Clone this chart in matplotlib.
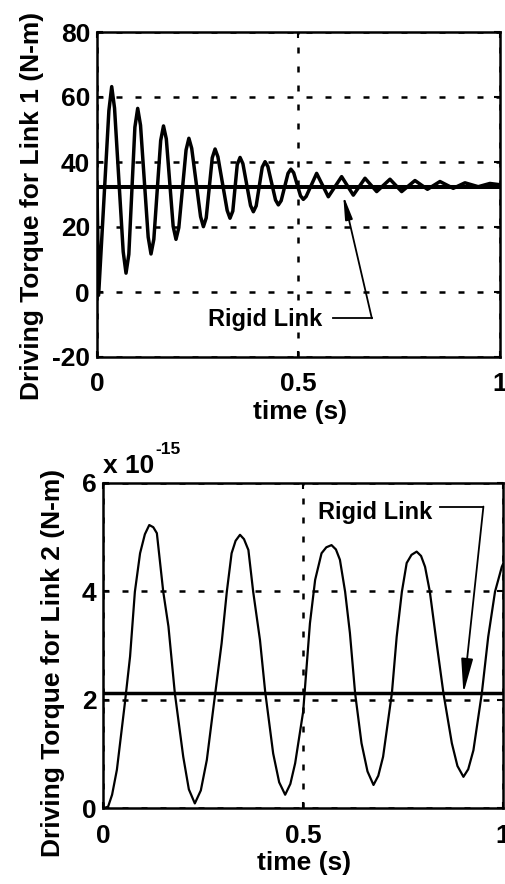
import matplotlib
matplotlib.use('Agg')
import matplotlib.pyplot as plt

#---------------------------
# data
#---------------------------
# link 1 : flexible link torque (N-m)
t1 = [0.0, 0.004, 0.0295, 0.0365, 0.0435, 0.065, 0.072, 0.079, 0.094, 0.101,
      0.108, 0.127, 0.134, 0.141, 0.158, 0.165, 0.172, 0.189, 0.196, 0.203,
      0.221, 0.228, 0.235, 0.257, 0.264, 0.271, 0.286, 0.293, 0.300, 0.323,
      0.330, 0.337, 0.348, 0.355, 0.362, 0.381, 0.388, 0.395, 0.410, 0.417,
      0.424, 0.443, 0.450, 0.457, 0.474, 0.481, 0.488, 0.505, 0.512, 0.519,
      0.545, 0.574, 0.607, 0.636, 0.665, 0.694, 0.727, 0.756, 0.789, 0.820,
      0.851, 0.884, 0.913, 0.946, 0.975, 1.0]
tau1 = [32.4, -1.0, 55.8, 63.2, 56.6, 12.4, 5.8, 11.6, 50.7, 56.5,
        51.3, 16.9, 11.7, 16.2, 46.6, 51.1, 47.1, 20.2, 16.2, 19.8,
        43.7, 47.3, 44.2, 23.2, 20.1, 22.8, 41.3, 44.0, 41.6, 25.1,
        22.7, 24.9, 39.2, 41.4, 39.5, 26.6, 24.7, 26.5, 38.4, 40.1,
        38.6, 28.3, 26.8, 28.1, 36.5, 37.8, 36.7, 29.6, 28.5, 29.4,
        36.5, 29.3, 35.5, 29.8, 35.0, 30.9, 34.7, 30.9, 34.3, 31.6,
        34.0, 31.9, 33.6, 32.4, 33.4, 33.0]
rigid1 = 32.4

# link 2 : flexible link torque, in units of 1e-15 N-m
t2 = [0.0, 0.012, 0.022, 0.034, 0.054, 0.067, 0.079, 0.092, 0.104, 0.115,
      0.125, 0.134, 0.150, 0.163, 0.179, 0.200, 0.214, 0.229, 0.244, 0.259,
      0.279, 0.296, 0.309, 0.321, 0.331, 0.342, 0.352, 0.363, 0.375, 0.392,
      0.405, 0.425, 0.440, 0.455, 0.468, 0.480, 0.500, 0.517, 0.530, 0.546,
      0.558, 0.571, 0.582, 0.592, 0.605, 0.617, 0.630, 0.646, 0.661, 0.676,
      0.688, 0.700, 0.722, 0.734, 0.747, 0.759, 0.771, 0.784, 0.795, 0.805,
      0.817, 0.834, 0.851, 0.872, 0.886, 0.901, 0.913, 0.926, 0.947, 0.963,
      0.980, 0.997, 1.0]
tau2 = [0.0, 0.03, 0.25, 0.71, 1.94, 2.80, 3.99, 4.70, 5.05, 5.22,
        5.18, 5.07, 3.99, 3.35, 2.12, 0.95, 0.35, 0.09, 0.33, 0.89,
        2.06, 3.04, 3.99, 4.70, 4.93, 5.04, 4.96, 4.76, 3.99, 3.10,
        2.15, 1.01, 0.48, 0.25, 0.45, 0.83, 1.78, 3.41, 4.21, 4.70,
        4.81, 4.85, 4.77, 4.58, 3.99, 3.23, 2.12, 1.20, 0.68, 0.43,
        0.60, 0.95, 2.12, 3.16, 3.99, 4.52, 4.67, 4.73, 4.65, 4.45,
        3.99, 3.04, 2.12, 1.20, 0.78, 0.58, 0.72, 1.07, 2.12, 3.16,
        3.99, 4.45, 4.50]
rigid2 = 2.12

xticks = [0, 0.5, 1]
xticklabels = ['0', '0.5', '1']
yticks1 = [-20, 0, 20, 40, 60, 80]
yticks2 = [0, 2, 4, 6]

plt.rcParams['font.family'] = ['Liberation Sans', 'DejaVu Sans']
plt.rcParams['font.weight'] = 'bold'
fs = 19

fig = plt.figure(figsize=(5.06, 8.84), dpi=100)
W, H = 506.0, 884.0

ax1 = fig.add_axes([97 / W, 1 - 357 / H, 403 / W, 325 / H])
ax2 = fig.add_axes([103.3 / W, 1 - 808.3 / H, 399.7 / W, 325.6 / H])

grid_ls = (0, (2.4, 5.2))
for ax, yt in [(ax1, yticks1), (ax2, yticks2)]:
    ax.set_xlim(0, 1)
    ax.set_ylim(yt[0], yt[-1])
    ax.set_xticks(xticks)
    ax.set_xticklabels(xticklabels)
    ax.set_yticks(yt)
    ax.set_yticklabels([str(v) for v in yt])
    ax.grid(True, linestyle=grid_ls, linewidth=1.8, color='black')
    ax.tick_params(direction='in', length=4, width=1.5, labelsize=fs,
                   top=True, right=True)
    ax.tick_params(axis='x', pad=11)
    ax.tick_params(axis='y', pad=5)
    for s in ax.spines.values():
        s.set_linewidth(1.8)

# ---- top plot
ax1.plot(t1, tau1, color='black', lw=2.5, solid_joinstyle='round')
ax1.axhline(rigid1, color='black', lw=2.9)
ax1.text(0.417, -8.6, 'Rigid Link', ha='center', va='center', fontsize=17)
ax1.plot([0.586, 0.682], [-8.1, -8.1], color='black', lw=1.3)
ax1.annotate('', xy=(0.611, 29.8), xytext=(0.682, -8.1),
             arrowprops=dict(arrowstyle='-|>,head_length=1.4,head_width=0.22',
                             lw=1.3, color='black', shrinkA=0, shrinkB=0))

# ---- bottom plot
ax2.plot(t2, tau2, color='black', lw=1.6, solid_joinstyle='round')
ax2.axhline(rigid2, color='black', lw=2.5)
ax2.text(0.68, 5.45, 'Rigid Link', ha='center', va='center', fontsize=17)
ax2.plot([0.842, 0.951], [5.56, 5.56], color='black', lw=1.3)
ax2.annotate('', xy=(0.901, 2.12), xytext=(0.951, 5.56),
             arrowprops=dict(arrowstyle='-|>,head_length=2.1,head_width=0.36',
                             lw=1.3, color='black', shrinkA=0, shrinkB=0))

fig.text(300 / W, 1 - 412 / H, 'time (s)', ha='center', va='center', fontsize=fs)
fig.text(304 / W, 1 - 863 / H, 'time (s)', ha='center', va='center', fontsize=fs)

fig.text(32 / W, 1 - 206 / H, 'Driving Torque for Link 1 (N-m)', rotation=90,
         ha='center', va='center', fontsize=fs)
fig.text(53 / W, 1 - 663 / H, 'Driving Torque for Link 2 (N-m)', rotation=90,
         ha='center', va='center', fontsize=fs)
fig.text(103 / W, 1 - 466 / H, 'x 10', ha='left', va='center', fontsize=fs)
fig.text(155 / W, 1 - 449 / H, '-15', ha='left', va='center', fontsize=12.5)

fig.savefig('out.png', dpi=100)
